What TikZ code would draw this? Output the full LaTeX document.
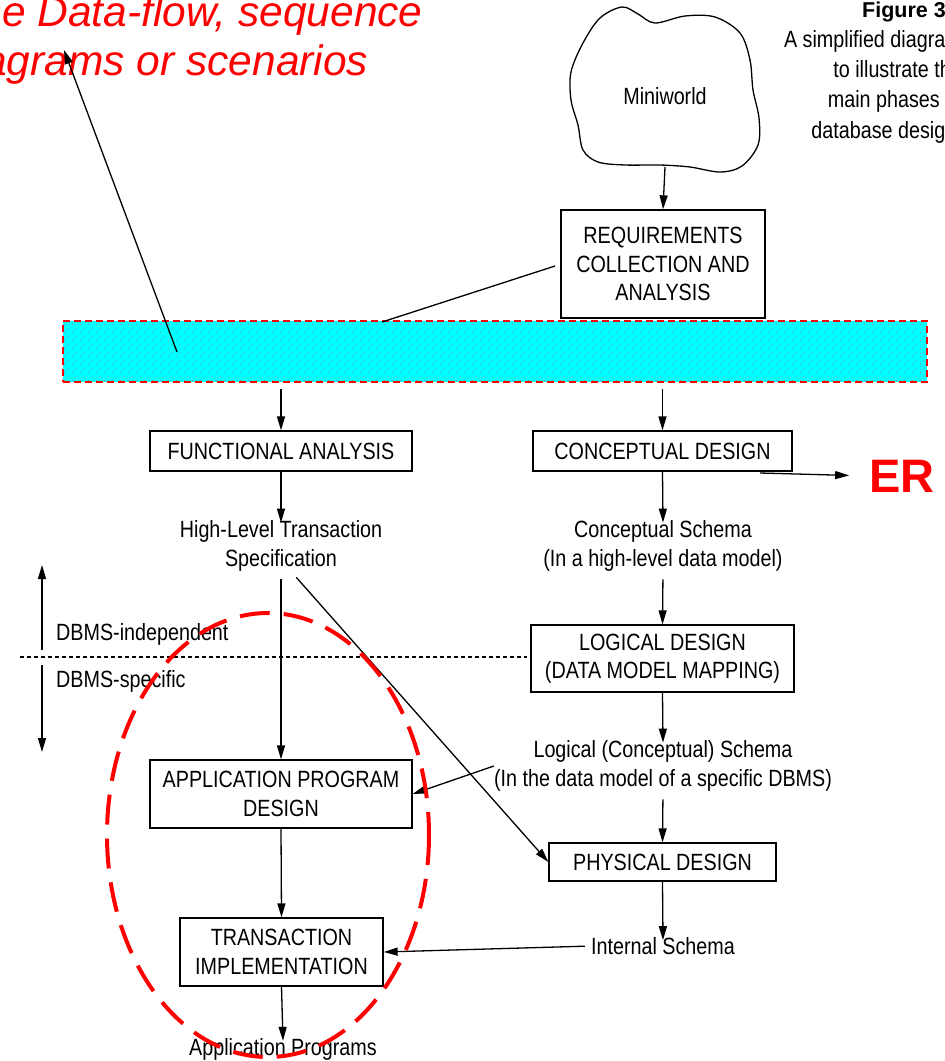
\documentclass[tikz,border=0pt]{standalone}
\usepackage{fontspec}
\setmainfont{Liberation Sans}[FakeStretch=0.84]
\newfontfamily\plainsans{Liberation Sans}
\usetikzlibrary{arrows.meta,patterns}

\definecolor{bandcyan}{RGB}{0,255,255}
\definecolor{hired}{RGB}{255,0,0}

% fine staggered dot screen for the highlighted band
\pgfdeclarepatternformonly{screendots}{\pgfqpoint{0pt}{0pt}}{\pgfqpoint{8pt}{8pt}}{\pgfqpoint{8pt}{8pt}}{%
  \pgfpathrectangle{\pgfqpoint{0pt}{0pt}}{\pgfqpoint{1pt}{1pt}}%
  \pgfpathrectangle{\pgfqpoint{4pt}{4pt}}{\pgfqpoint{1pt}{1pt}}%
  \pgfusepath{fill}}

\begin{document}
\begin{tikzpicture}[x=1pt,y=-1pt,
  txt/.style={font=\fontsize{23.5}{28.5}\selectfont, align=center, inner sep=0pt},
  box/.style={txt, draw, line width=1.3pt},
  arr/.style={-{Triangle[length=14pt,width=8pt]}, line width=1.3pt},
  ln/.style={line width=1.3pt}]
\useasboundingbox (0,0) rectangle (945,1061);
\clip (0,0) rectangle (945,1061);

% the miniworld cloud
\draw[line width=1.3pt] plot[smooth cycle, tension=0.55] coordinates {
  (600,18) (622,7) (638,14) (655,23) (685,16) (715,17) (740,33)
  (750,60) (753,90) (759,118) (758,145) (742,166) (720,172)
  (690,167) (660,165) (625,165) (598,162) (583,150) (578,125)
  (571,100) (571,72) (583,43)};
\node[txt] (mini) at (665,96) {Miniworld};
\coordinate (cloudbot) at (665,167);

% highlighted band
\node[draw=hired, line width=2.2pt, dash pattern=on 7pt off 4pt,
      preaction={fill=bandcyan}, pattern=screendots, pattern color=black!45,
      minimum width=864pt, minimum height=61pt, inner sep=0pt] (band) at (495,351.5) {};

% process boxes
\node[box, minimum width=204pt, minimum height=108pt] (req) at (663,264)
  {REQUIREMENTS\\COLLECTION AND\\ANALYSIS};
\node[box, minimum width=262pt, minimum height=40pt] (fa) at (281,451) {FUNCTIONAL ANALYSIS};
\node[box, minimum width=259pt, minimum height=40pt] (cd) at (662.5,451) {CONCEPTUAL DESIGN};
\node[box, minimum width=263pt, minimum height=67pt] (ld) at (662.5,658.5)
  {LOGICAL DESIGN\\(DATA MODEL MAPPING)};
\node[box, minimum width=227pt, minimum height=38pt] (pd) at (662.5,862) {PHYSICAL DESIGN};
\node[box, minimum width=262pt, minimum height=68pt] (apd) at (281,794)
  {APPLICATION PROGRAM\\DESIGN};
\node[box, minimum width=203pt, minimum height=68pt] (ti) at (281.5,952)
  {TRANSACTION\\IMPLEMENTATION};

% intermediate results
\node[txt] (hlts) at (281,546) {High-Level Transaction\\Specification};
\node[txt] (cs) at (663,546) {Conceptual Schema\\(In a high-level data model)};
\node[txt] (lcs) at (663,766) {Logical (Conceptual) Schema\\(In the data model of a specific DBMS)};
\node[txt] (is) at (663,946) {Internal Schema};
\node[txt] (ap) at (283,1049) {Application Programs};

% caption
\node[font=\plainsans\bfseries\fontsize{21.5}{28.5}\selectfont, anchor=base west, inner sep=0pt] (fig) at (862,17) {Figure 3.1};
\node[txt, font=\fontsize{23.5}{30.3}\selectfont, align=right, anchor=north east] (cap) at (962,30)
  {A simplified diagram\\to illustrate the\\main phases of\\database design.};

% annotations
\node[font=\plainsans\bfseries\fontsize{47}{50}\selectfont, text=hired, inner sep=0pt] (er) at (902,476) {ER};
\node[font=\plainsans\itshape\fontsize{42.5}{49}\selectfont, text=hired, align=left,
      anchor=north west, inner sep=0pt] (note) at (-50,-5)
  {Use Data-flow, sequence\\diagrams or scenarios};

% main flow
\draw[arr] (cloudbot) -- (req.north);
\draw[arr, shorten <=6pt] (band.south -| fa.north) -- (fa.north);
\draw[arr, shorten <=6pt] (band.south -| cd.north) -- (cd.north);
\draw[arr] (fa.south) -- ([yshift=-2pt]hlts.north);
\draw[arr] (cd.south) -- ([yshift=-2pt]cs.north);
\draw[arr, shorten <=8pt] (cs.south) -- (ld.north);
\draw[arr] (ld.south) -- ([yshift=-2pt]lcs.north);
\draw[arr, shorten <=8pt] (lcs.south) -- (pd.north);
\draw[arr] (pd.south) -- ([yshift=-3pt]is.north);
\draw[arr, shorten <=6pt] (is.west) -- (ti.east);
\draw[arr, shorten <=8pt] (hlts.south) -- (apd.north);
\draw[arr, shorten <=8pt] ([xshift=10pt]hlts.south) -- (pd.west);
\draw[arr] (lcs.west) -- (apd.east);
\draw[arr] (apd.south) -- (ti.north);
\draw[arr] (ti.south) -- ([yshift=-3pt]ap.north);

% pointers from the band
\coordinate (reqleft) at (555,266);
\coordinate (bandtop) at (382,322);
\draw[ln] (reqleft) -- (bandtop);
\coordinate (bandin) at (177,352);
\draw[arr] (bandin) -- (64,50);
\coordinate (erfrom) at (760,473);
\draw[arr, shorten >=20pt] (erfrom) -- (er.west);

% DBMS boundary
\coordinate (sepL) at (20,657);
\coordinate (sepR) at (527,657);
\draw[line width=1.2pt, dash pattern=on 4pt off 3pt] (sepL) -- (sepR);
\coordinate (upA) at (42,650);
\coordinate (upB) at (42,565);
\coordinate (dnA) at (42,665);
\coordinate (dnB) at (42,752);
\draw[arr] (upA) -- (upB);
\draw[arr] (dnA) -- (dnB);
\node[txt, anchor=west] (indep) at (56,634) {DBMS-independent};
\node[txt, anchor=west] (spec) at (56,681) {DBMS-specific};

% application side highlight
\draw[hired, line width=4pt, dash pattern=on 30pt off 14pt] (268,835) ellipse [x radius=161, y radius=222];
\end{tikzpicture}
\end{document}
